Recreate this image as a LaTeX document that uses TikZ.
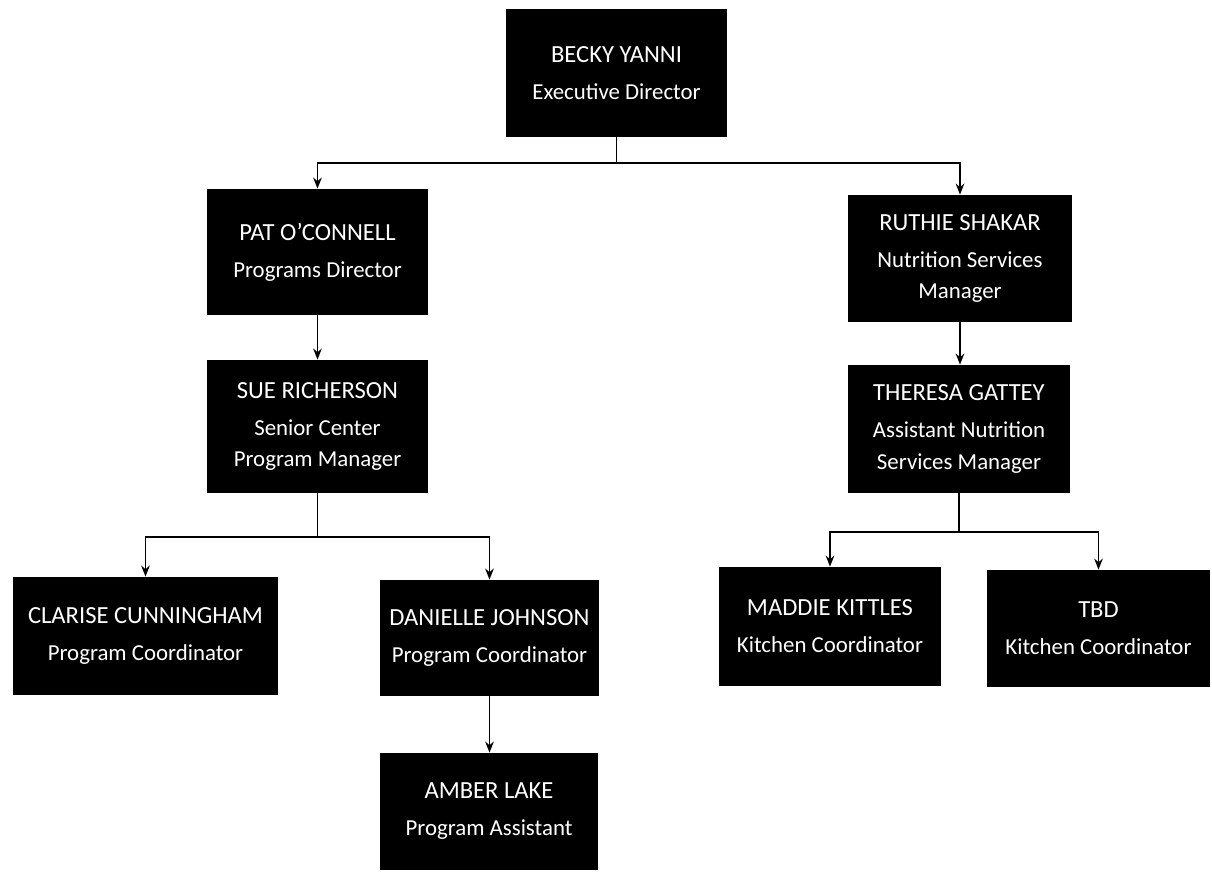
\documentclass[tikz,border=0pt]{standalone}
\usepackage{fontspec}
\setmainfont{Carlito}
\usepackage{tikz}
\usetikzlibrary{calc,arrows.meta}

\tikzset{
	person/.style={fill=black,text=white,align=center,inner sep=2pt,
		font=\fontsize{13}{18}\selectfont},
	link/.style={-{Stealth[length=2.2mm,width=1.7mm]},line width=1.1pt}
}
\newcommand{\who}[1]{{\fontsize{14}{18}\selectfont #1}}

\begin{document}
\begin{tikzpicture}
	\fill[white] (0,0) rectangle (24.24,-17.56);
	\useasboundingbox (0,0) rectangle (24.24,-17.56);
	
	\node[person,minimum width=4.42cm,minimum height=2.56cm] (becky) at (12.33,-1.46)
	{\who{BECKY YANNI}\\[3pt]Executive Director};
	
	\node[person,minimum width=4.42cm,minimum height=2.52cm] (pat) at (6.35,-5.04)
	{\who{PAT O'CONNELL}\\[3pt]Programs Director};
	\node[person,minimum width=4.48cm,minimum height=2.54cm] (ruthie) at (19.2,-5.17)
	{\who{RUTHIE SHAKAR}\\[3pt]Nutrition Services\\Manager};
	
	\node[person,minimum width=4.42cm,minimum height=2.66cm] (sue) at (6.35,-8.53)
	{\who{SUE RICHERSON}\\[3pt]Senior Center\\Program Manager};
	\node[person,minimum width=4.44cm,minimum height=2.56cm] (theresa) at (19.18,-8.58)
	{\who{THERESA GATTEY}\\[3pt]Assistant Nutrition\\Services Manager};
	
	\node[person,minimum width=5.3cm,minimum height=2.36cm] (clarise) at (2.91,-12.72)
	{\who{CLARISE CUNNINGHAM}\\[3pt]Program Coordinator};
	\node[person,minimum width=4.38cm,minimum height=2.32cm] (danielle) at (9.79,-12.76)
	{\who{DANIELLE JOHNSON}\\[3pt]Program Coordinator};
	\node[person,minimum width=4.36cm,minimum height=2.34cm] (amber) at (9.78,-16.23)
	{\who{AMBER LAKE}\\[3pt]Program Assistant};
	
	\node[person,minimum width=4.44cm,minimum height=2.38cm] (maddie) at (16.6,-12.53)
	{\who{MADDIE KITTLES}\\[3pt]Kitchen Coordinator};
	\node[person,minimum width=4.46cm,minimum height=2.34cm] (tbd) at (21.97,-12.57)
	{\who{TBD}\\[3pt]Kitchen Coordinator};
	
%	================================================
	\coordinate (top) at ($(becky.south)+(0,-.52)$);
	\coordinate (left) at ($(sue.south)+(0,-.88)$);
	\coordinate (right) at ($(theresa.south)+(0,-.78)$);
	
	\draw[link] (becky.south) -- (top) -| (pat.north);
	\draw[link] (top) -| (ruthie.north);
	
	\draw[link] (pat) -- (sue);
	\draw[link] (ruthie.south) -- (ruthie.south |- theresa.north);
	
	\draw[link] (sue.south) -- (left) -| (clarise.north);
	\draw[link] (left) -| (danielle.north);
	\draw[link] (danielle.south) -- (danielle.south |- amber.north);
	
	\draw[link] (theresa.south) -- (right) -| (maddie.north);
	\draw[link] (right) -| (tbd.north);
	
\end{tikzpicture}
\end{document}
